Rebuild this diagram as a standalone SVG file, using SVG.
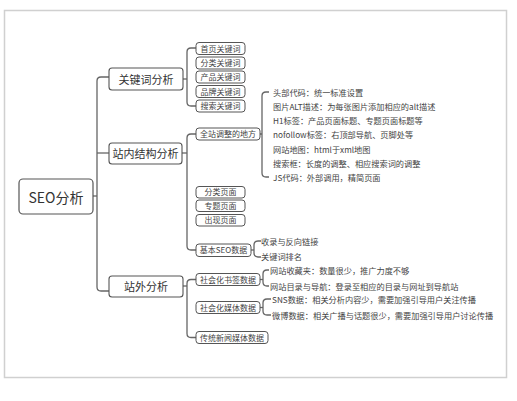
<svg xmlns="http://www.w3.org/2000/svg" width="517" height="401" viewBox="0 0 517 401">
<style>
text{font-family:"Noto Sans CJK SC","Noto Sans",sans-serif;fill:#333;dominant-baseline:central}
.root rect{fill:#fff;stroke:#555;stroke-width:1.2}
.root text{font-size:14px;text-anchor:middle}
.l1 rect{fill:#fff;stroke:#555;stroke-width:1.1}
.l1 text{font-size:11px;text-anchor:middle}
.l2 rect{fill:#fff;stroke:#555;stroke-width:1}
.l2 text{font-size:8px;text-anchor:middle;fill:#444}
.leaf text{font-size:8.2px;fill:#444}
#connectors path{fill:none;stroke:#666;stroke-width:1.3}
</style>
<rect x="4.5" y="10.5" width="502" height="367" fill="#fff" stroke="#d0d0d0" stroke-width="1.5"/>
<g id="connectors">
<path d="M93,196 H97"/>
<path d="M109,77 H101 Q97,77 97,81 V287 Q97,291 101,291 H109"/>
<path d="M97,153 H109"/>
<path d="M183,79 H187"/>
<path d="M196,48 H191 Q187,48 187,52 V102 Q187,106 191,106 H196"/>
<path d="M182,153 H187"/>
<path d="M196,134 H191 Q187,134 187,138 V246 Q187,250 191,250 H196"/>
<path d="M260,134 H262"/>
<path d="M269,92 H266 Q262,92 262,96 V173 Q262,177 266,177 H269"/>
<path d="M251,250 H254"/>
<path d="M261,241 H258 Q254,241 254,245 V253 Q254,257 258,257 H261"/>
<path d="M183,286 H187"/>
<path d="M196,279.5 H191 Q187,279.5 187,283.5 V333.5 Q187,337.5 191,337.5 H196"/>
<path d="M260,279.5 H263"/>
<path d="M269,270 H267 Q263,270 263,274 V282 Q263,286 267,286 H269"/>
<path d="M260,307.5 H263"/>
<path d="M271,299 H267 Q263,299 263,303 V311 Q263,315 267,315 H271"/>
</g>
<g id="root" class="root"><rect x="19" y="179" width="74" height="35" rx="4"/><text x="56" y="196.5">SEO分析</text></g>
<g id="n-kw" class="l1"><rect x="109" y="68" width="74" height="22" rx="3"/><text x="146" y="78.5">关键词分析</text></g>
<g id="n-in" class="l1"><rect x="109" y="143" width="73" height="21" rx="3"/><text x="145.5" y="153">站内结构分析</text></g>
<g id="n-out" class="l1"><rect x="109" y="276" width="74" height="21" rx="3"/><text x="146" y="286">站外分析</text></g>
<g id="kw1" class="l2"><rect x="196" y="42.5" width="49" height="12" rx="3"/><text x="220.5" y="48">首页关键词</text></g>
<g id="kw2" class="l2"><rect x="196" y="57" width="49" height="12" rx="3"/><text x="220.5" y="62.5">分类关键词</text></g>
<g id="kw3" class="l2"><rect x="196" y="71" width="49" height="12" rx="3"/><text x="220.5" y="76.5">产品关键词</text></g>
<g id="kw4" class="l2"><rect x="196" y="85.5" width="49" height="12" rx="3"/><text x="220.5" y="91">品牌关键词</text></g>
<g id="kw5" class="l2"><rect x="196" y="100" width="49" height="12" rx="3"/><text x="220.5" y="105.5">搜索关键词</text></g>
<g id="in1" class="l2"><rect x="196" y="128" width="64" height="12" rx="3"/><text x="228" y="133.5">全站调整的地方</text></g>
<g id="in2" class="l2"><rect x="196" y="186.5" width="49" height="11.5" rx="3"/><text x="220.5" y="191.8">分类页面</text></g>
<g id="in3" class="l2"><rect x="196" y="200" width="49" height="11.5" rx="3"/><text x="220.5" y="205.3">专题页面</text></g>
<g id="in4" class="l2"><rect x="196" y="214.5" width="49" height="11.5" rx="3"/><text x="220.5" y="219.8">出现页面</text></g>
<g id="in5" class="l2"><rect x="196" y="244" width="55" height="12.5" rx="3"/><text x="223.5" y="249.8">基本SEO数据</text></g>
<g id="out1" class="l2"><rect x="196" y="273.5" width="64" height="12" rx="3"/><text x="228" y="279">社会化书签数据</text></g>
<g id="out2" class="l2"><rect x="196" y="301.5" width="64" height="12" rx="3"/><text x="228" y="307">社会化媒体数据</text></g>
<g id="out3" class="l2"><rect x="196" y="331.5" width="72" height="12" rx="3"/><text x="232" y="337">传统新闻媒体数据</text></g>
<g id="leaves-site" class="leaf">
<text x="273" y="92">头部代码：统一标准设置</text>
<text x="273" y="106">图片ALT描述：为每张图片添加相应的alt描述</text>
<text x="273" y="120">H1标签：产品页面标题、专题页面标题等</text>
<text x="273" y="134">nofollow标签：右顶部导航、页脚处等</text>
<text x="273" y="148.5">网站地图：html于xml地图</text>
<text x="273" y="163">搜索框：长度的调整、相应搜索词的调整</text>
<text x="273" y="177">JS代码：外部调用，精简页面</text>
</g>
<g id="leaves-seo" class="leaf">
<text x="261" y="241">收录与反向链接</text>
<text x="261" y="256">关键词排名</text>
</g>
<g id="leaves-bookmark" class="leaf">
<text x="270" y="270">网站收藏夹：数量很少，推广力度不够</text>
<text x="270" y="286">网站目录与导航：登录至相应的目录与网址到导航站</text>
</g>
<g id="leaves-media" class="leaf">
<text x="272" y="299">SNS数据：相关分析内容少，需要加强引导用户关注传播</text>
<text x="272" y="315">微博数据：相关广播与话题很少，需要加强引导用户讨论传播</text>
</g>
</svg>
